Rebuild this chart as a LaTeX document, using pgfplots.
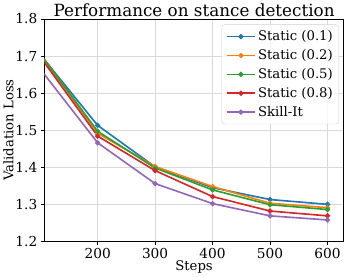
\documentclass[border=0pt]{standalone}
\usepackage{pgfplots}
\pgfplotsset{compat=1.18}
\usepackage{fontspec}
\setmainfont{DejaVu Serif}
\definecolor{tabblue}{HTML}{1F77B4}
\definecolor{taborange}{HTML}{FF7F0E}
\definecolor{tabgreen}{HTML}{2CA02C}
\definecolor{tabred}{HTML}{D62728}
\definecolor{tabpurple}{HTML}{9467BD}
\pgfplotsset{mystyle/.style={line width=1.6pt, mark=*, mark size=1.7pt, mark options={solid}}}
\begin{document}
\begin{tikzpicture}
\begin{axis}[
  scale only axis,
  width=293bp, height=218bp,
  xmin=107.5, xmax=628,
  ymin=1.2, ymax=1.8,
  xtick={200,300,400,500,600},
  ytick={1.2,1.3,1.4,1.5,1.6,1.7,1.8},
  xtick pos=bottom, ytick pos=left,
  yticklabel style={/pgf/number format/fixed,/pgf/number format/precision=1,/pgf/number format/fixed zerofill},
  /pgf/number format/assume math mode=true,
  ticklabel style={font=\fontsize{13.5}{15}\selectfont},
  tick style={black, line width=0.6pt},
  tick align=outside,
  major tick length=3.5bp,
  grid=major,
  grid style={gray!30, line width=0.6pt},
  axis line style={black, line width=0.6pt},
  title={Performance on stance detection},
  title style={font=\fontsize{16.5}{18}\selectfont, yshift=-7bp},
  xlabel={Steps},
  ylabel={Validation Loss},
  label style={font=\fontsize{13}{15}\selectfont},
  xlabel style={yshift=5bp},
  ylabel style={yshift=-5bp},
  legend style={font=\fontsize{13}{15}\selectfont, draw=gray!35, rounded corners=3pt, fill=white, fill opacity=0.8, text opacity=1, row sep=3.2pt, inner xsep=4pt, inner ysep=4pt, at={(0.985,0.975)}, anchor=north east},
  legend cell align=left,
  legend image code/.code={\draw[mark repeat=2,mark phase=2] plot coordinates {(0bp,0bp) (14bp,0bp) (28bp,0bp)};},
  clip=true,
]
\addplot[tabblue, mystyle] coordinates {(100,1.704) (200,1.513) (300,1.401) (400,1.345) (500,1.313) (600,1.300)};
\addlegendentry{Static (0.1)}
\addplot[taborange, mystyle] coordinates {(100,1.704) (200,1.492) (300,1.402) (400,1.348) (500,1.303) (600,1.291)};
\addlegendentry{Static (0.2)}
\addplot[tabgreen, mystyle] coordinates {(100,1.706) (200,1.497) (300,1.398) (400,1.339) (500,1.299) (600,1.286)};
\addlegendentry{Static (0.5)}
\addplot[tabred, mystyle] coordinates {(100,1.698) (200,1.484) (300,1.391) (400,1.321) (500,1.282) (600,1.269)};
\addlegendentry{Static (0.8)}
\addplot[tabpurple, mystyle] coordinates {(100,1.665) (200,1.466) (300,1.356) (400,1.302) (500,1.269) (600,1.258)};
\addlegendentry{Skill-It}
\end{axis}
\end{tikzpicture}
\end{document}
